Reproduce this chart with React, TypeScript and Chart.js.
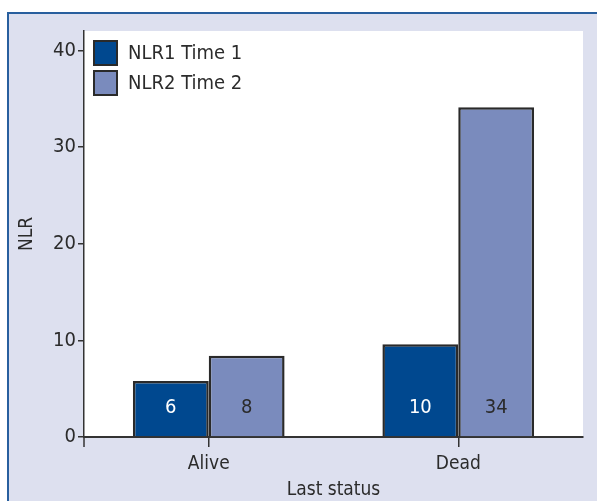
import React, { useEffect, useRef } from "react";
import { Chart, registerables } from "chart.js";

Chart.register(...registerables);

const categories = ["Alive", "Dead"];
const seriesNames = ["NLR1 Time 1", "NLR2 Time 2"];
const nlr1Values = [5.8, 9.6];
const nlr2Values = [8.4, 34.1];
const nlr1Labels = ["6", "10"];
const nlr2Labels = ["8", "34"];
const yTicks = [0, 10, 20, 30, 40];

const FONT = "'DejaVu Sans Condensed', 'Liberation Sans', Arial, sans-serif";
const DARK = "rgb(0,72,143)";
const LIGHT = "rgb(122,139,189)";
const PANEL = "rgb(221,224,239)";
const BORDER_BLUE = "rgb(40,95,158)";
const AXIS = "#333333";
const TEXT = "#2b2b2b";

const panelPlugin = {
  id: "panel",
  beforeDraw(chart: any) {
    const { ctx, chartArea } = chart;
    ctx.save();
    ctx.fillStyle = "#ffffff";
    ctx.fillRect(0, 0, chart.width, chart.height);
    ctx.fillStyle = PANEL;
    ctx.fillRect(9, 14, chart.width - 9, chart.height - 14);
    ctx.fillStyle = "#ffffff";
    ctx.fillRect(chartArea.left, chartArea.top, chartArea.right - chartArea.left, chartArea.bottom - chartArea.top);
    ctx.strokeStyle = BORDER_BLUE;
    ctx.lineWidth = 2;
    ctx.beginPath();
    ctx.moveTo(8, chart.height);
    ctx.lineTo(8, 13);
    ctx.lineTo(chart.width, 13);
    ctx.stroke();
    ctx.restore();
  },
  afterDraw(chart: any) {
    const { ctx, chartArea } = chart;
    ctx.save();
    ctx.strokeStyle = AXIS;
    ctx.lineWidth = 1.5;
    ctx.beginPath();
    ctx.moveTo(chartArea.left, chartArea.bottom);
    ctx.lineTo(chartArea.left, chartArea.bottom + 10);
    ctx.stroke();
    ctx.restore();
  },
};

const barLabelPlugin = {
  id: "barLabels",
  afterDatasetsDraw(chart: any) {
    const { ctx } = chart;
    const texts = [nlr1Labels, nlr2Labels];
    const colors = ["#ffffff", TEXT];
    const yBase = chart.scales.y.getPixelForValue(0);
    ctx.save();
    ctx.font = `20px ${FONT}`;
    ctx.textAlign = "center";
    ctx.textBaseline = "middle";
    chart.data.datasets.forEach((_: any, di: number) => {
      const meta = chart.getDatasetMeta(di);
      meta.data.forEach((bar: any, i: number) => {
        ctx.fillStyle = colors[di];
        ctx.fillText(texts[di][i], bar.x, yBase - 29);
      });
    });
    ctx.restore();
  },
};

const legendPlugin = {
  id: "customLegend",
  afterDraw(chart: any) {
    const { ctx, chartArea } = chart;
    const x0 = chartArea.left + 10;
    const y0 = chartArea.top + 10;
    ctx.save();
    chart.data.datasets.forEach((ds: any, i: number) => {
      const y = y0 + i * 30;
      ctx.fillStyle = ds.backgroundColor;
      ctx.fillRect(x0, y, 23, 24);
      ctx.strokeStyle = "#2a2a2a";
      ctx.lineWidth = 2;
      ctx.strokeRect(x0, y, 23, 24);
      ctx.fillStyle = TEXT;
      ctx.font = `20px ${FONT}`;
      ctx.textAlign = "left";
      ctx.textBaseline = "middle";
      ctx.fillText(ds.label, x0 + 34, y + 13);
    });
    ctx.restore();
  },
};

export default function App() {
  const ref = useRef<HTMLCanvasElement | null>(null);
  useEffect(() => {
    if (!ref.current) return;
    const chart = new Chart(ref.current, {
      type: "bar",
      data: {
        labels: categories,
        datasets: [
          {
            label: seriesNames[0],
            data: nlr1Values,
            backgroundColor: DARK,
            borderColor: "#2a2a2a",
            borderWidth: 2.5,
          },
          {
            label: seriesNames[1],
            data: nlr2Values,
            backgroundColor: LIGHT,
            borderColor: "#2a2a2a",
            borderWidth: 2.5,
          },
        ],
      },
      options: {
        animation: false,
        responsive: true,
        maintainAspectRatio: false,
        layout: { padding: { top: 31, right: 14, left: 0, bottom: 0 } },
        datasets: { bar: { categoryPercentage: 0.608, barPercentage: 1.0 } },
        plugins: { legend: { display: false }, tooltip: { enabled: false } },
        scales: {
          x: {
            offset: true,
            grid: {
              display: true,
              offset: false,
              drawOnChartArea: false,
              tickLength: 10,
              color: AXIS,
              lineWidth: 1.5,
            },
            border: { display: true, color: AXIS, width: 2 },
            ticks: { color: TEXT, font: { family: FONT, size: 19 }, padding: 6 },
            title: {
              display: true,
              text: "Last status",
              color: TEXT,
              font: { family: FONT, size: 19 },
              padding: { top: 0, bottom: 0 },
            },
            afterFit(scale: any) {
              scale.height = 64;
            },
          },
          y: {
            min: 0,
            max: 42,
            afterBuildTicks(scale: any) {
              scale.ticks = yTicks.map((v) => ({ value: v }));
            },
            grid: {
              display: true,
              drawOnChartArea: false,
              tickLength: 6,
              color: AXIS,
              lineWidth: 1.5,
            },
            border: { display: true, color: AXIS, width: 1.5 },
            ticks: { color: TEXT, font: { family: FONT, size: 20 }, padding: 2 },
            title: {
              display: true,
              text: "NLR",
              color: TEXT,
              font: { family: FONT, size: 19 },
              padding: { top: 16, bottom: 0 },
            },
            afterFit(scale: any) {
              scale.width = 84;
            },
          },
        },
      },
      plugins: [panelPlugin, barLabelPlugin, legendPlugin],
    });
    return () => chart.destroy();
  }, []);
  return (
    <div style={{ position: "absolute", left: 0, top: 0, width: 597, height: 501 }}>
      <canvas ref={ref} />
    </div>
  );
}
